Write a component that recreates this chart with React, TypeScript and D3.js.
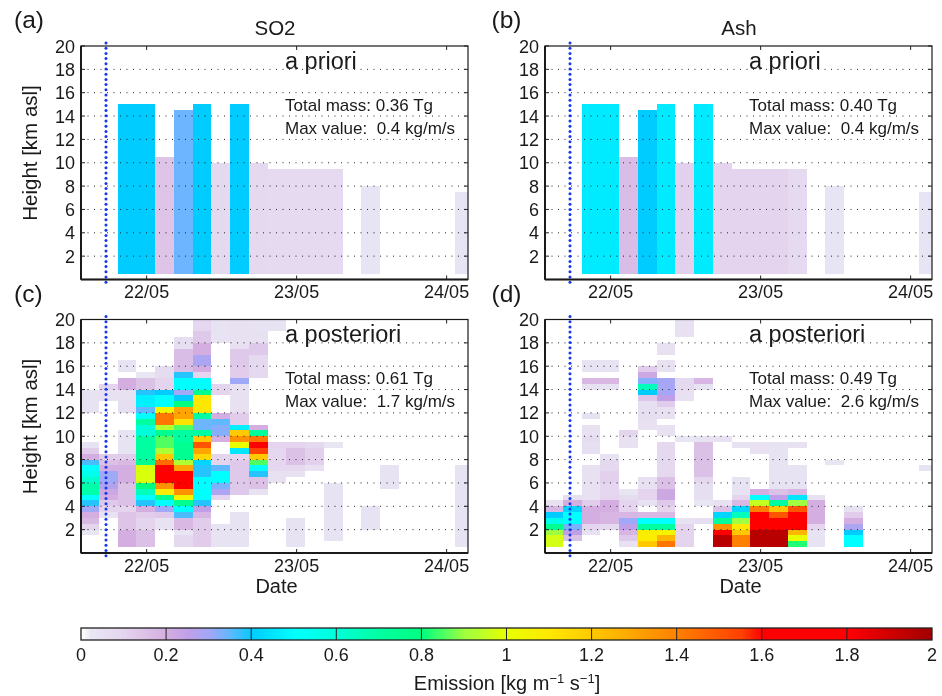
import React from "react";
import * as d3 from "d3";

// Each row: [column index (3 h bins), from km, to km, emission value]
const so2Prior: number[][] = [
  [2,.5,15,.4],[3,.5,15,.4],[4,.5,10.5,.14],[5,.5,14.5,.34],[6,.5,15,.4],[7,.5,10,.08],[8,.5,15,.4],
  [9,.5,10,.08],[10,.5,9.5,.075],[11,.5,9.5,.075],[12,.5,9.5,.075],[13,.5,9.5,.075],[15,.5,8,.035],[20,.5,7.5,.035],
];
const ashPrior: number[][] = [
  [2,.5,15,.46],[3,.5,15,.46],[4,.5,10.5,.16],[5,.5,14.5,.4],[6,.5,15,.46],[7,.5,10,.11],[8,.5,15,.46],
  [9,.5,10,.1],[10,.5,9.5,.1],[11,.5,9.5,.1],[12,.5,9.5,.1],[13,.5,9.5,.075],[15,.5,8,.035],[20,.5,7.5,.035],
];
const so2Post: number[][] = [
  [0,1.5,2,.03],[0,2,2.5,.1],[0,2.5,3,.17],[0,3,3.5,.2],[0,3.5,4,.3],[0,4,4.5,.38],[0,4.5,5,.5],[0,5,6,.68],[0,6,6.5,.62],[0,6.5,7,.55],[0,7,7.5,.5],[0,7.5,8,.36],[0,8,8.5,.2],[0,8.5,9,.12],[0,9,9.5,.04],[0,12,14,.04],
  [1,3,3.5,.04],[1,3.5,4,.1],[1,4,4.5,.13],[1,4.5,5,.2],[1,5,5.5,.22],[1,5.5,6,.27],[1,6,7,.3],[1,7,7.5,.2],[1,7.5,8,.15],[1,8,8.5,.12],[1,13,14,.05],[1,14,14.5,.1],
  [2,.5,2,.2],[2,2,3.5,.14],[2,3.5,4,.1],[2,4,6,.15],[2,6,7.5,.2],[2,7.5,8,.17],[2,8,8.5,.12],[2,8.5,10.5,.04],[2,12,13,.06],[2,13,14,.05],[2,14,15,.2],[2,15.5,16.5,.04],
  [3,.5,2,.15],[3,2,3,.1],[3,3,3.5,.12],[3,3.5,4,.2],[3,4,4.5,.38],[3,4.5,5,.5],[3,5,5.5,.65],[3,5.5,6,.8],[3,6,7.5,.98],[3,7.5,8,.75],[3,8,10,.7],[3,10,11,.6],[3,11,11.5,.7],[3,11.5,12,.5],[3,12,12.5,.35],[3,12.5,13.5,.47],[3,13.5,14,.38],[3,14,15,.15],[3,15,15.5,.03],
  [4,2,3,.04],[4,3,3.5,.13],[4,3.5,4,.3],[4,4,4.5,.5],[4,4.5,5,.75],[4,5,5.5,1.08],[4,5.5,6,1.35],[4,6,7.5,1.65],[4,7.5,8,1.45],[4,8,8.5,1.2],[4,8.5,9,.92],[4,9,10,.85],[4,10,10.5,.75],[4,10.5,11,.93],[4,11,12,1.42],[4,12,12.5,1.05],[4,12.5,13.5,.5],[4,13.5,14,.4],[4,14,15,.1],[4,15,16,.07],
  [5,.5,1.5,.08],[5,1.5,2,.03],[5,2,3,.17],[5,3,3.5,.36],[5,3.5,4,.5],[5,4,4.5,.75],[5,4.5,5,1.05],[5,5,5.5,1.35],[5,5.5,7,1.7],[5,7,7.5,1.3],[5,7.5,8,.92],[5,8,9.5,.75],[5,9.5,10.5,.7],[5,10.5,11,.85],[5,11,11.5,1.12],[5,11.5,12.5,1.3],[5,12.5,13,.8],[5,13,13.5,.4],[5,13.5,14,.3],[5,14,15,.5],[5,15,15.5,.38],[5,15.5,17.5,.16],[5,17.5,18.5,.06],
  [6,.5,3,.12],[6,3,3.5,.18],[6,3.5,4,.25],[6,4,4.5,.38],[6,4.5,6.5,.5],[6,6.5,7.5,.38],[6,7.5,8,.42],[6,8,8.5,1.15],[6,8.5,9,1.3],[6,9,9.5,1.5],[6,9.5,10,1.2],[6,10,10.5,.7],[6,10.5,11.5,.34],[6,11.5,12,.7],[6,12,13.5,1.1],[6,13.5,14,.75],[6,14,15,.5],[6,15,15.5,.1],[6,15.5,16,.2],[6,16,17,.28],[6,17,18,.2],[6,18,19,.13],[6,19,20,.09],
  [7,.5,2.5,.04],[7,4.5,5,.1],[7,5,5.5,.28],[7,5.5,6,.33],[7,6,7,.5],[7,7,7.5,.35],[7,7.5,8.5,.1],[7,9.5,10,.2],[7,10,11,.32],[7,11,11.5,.35],[7,11.5,12,.2],[7,13.5,14.5,.1],[7,18,20,.04],
  [8,.5,3.5,.04],[8,5,8,.13],[8,8,8.5,.1],[8,8.5,9,.45],[8,9,9.5,1.0],[8,9.5,10,1.35],[8,10,10.5,1.2],[8,10.5,11,.47],[8,11,12,.12],[8,12,13.5,.05],[8,13.5,14.5,.05],[8,14.5,15,.3],[8,15,16,.12],[8,16,17.5,.13],[8,17.5,19,.05],[8,19,20,.05],
  [9,5,5.5,.05],[9,5.5,6.5,.15],[9,6.5,7,.38],[9,7,7.5,.5],[9,7.5,8,.85],[9,8,8.5,1.2],[9,8.5,9,1.55],[9,9,9.5,1.65],[9,9.5,10,1.42],[9,10,10.5,.72],[9,10.5,11,.2],[9,15,17,.08],[9,17,18,.13],[9,18,19,.05],[9,19,20,.04],
  [10,6,7,.05],[10,7,9,.09],[10,9,9.5,.1],[10,19,20,.04],
  [11,.5,3,.04],[11,6.5,7,.05],[11,7,7.5,.08],[11,7.5,9,.15],[11,9,9.5,.1],
  [12,7,7.5,.05],[12,7.5,9,.11],[12,9,9.5,.08],
  [13,1,6,.04],[13,9,9.5,.03],
  [15,2,4,.04],[16,5.5,7.5,.04],[20,.5,7.5,.04],
];
const ashPost: number[][] = [
  [0,.5,1.5,.97],[0,1.5,2,.9],[0,2,2.5,.75],[0,2.5,3,.55],[0,3,3.5,.4],[0,3.5,4,.18],[0,4,4.5,.05],
  [1,1,1.5,.15],[1,1.5,2,.25],[1,2,2.5,.33],[1,2.5,3.5,.5],[1,3.5,4,.42],[1,4,4.5,.2],[1,4.5,5,.06],
  [2,1.5,2,.05],[2,2,2.5,.1],[2,2.5,4,.2],[2,4,4.5,.12],[2,4.5,7.5,.05],[2,8.5,9.5,.06],[2,9.5,10,.07],[2,10,11,.05],[2,11.5,12,.05],[2,14,14.5,.05],[2,14.5,15,.17],[2,15.5,16.5,.04],
  [3,2,2.5,.08],[3,2.5,3.5,.18],[3,3.5,4.5,.2],[3,4.5,5,.1],[3,5,6,.09],[3,6,7,.11],[3,7,8,.08],[3,8,8.5,.05],[3,14,14.5,.04],[3,14.5,15,.17],[3,15.5,16.5,.04],
  [4,.5,1,.05],[4,1,1.5,.13],[4,1.5,2,.18],[4,2,2.5,.25],[4,2.5,3,.3],[4,3,3.5,.18],[4,3.5,4.5,.1],[4,4.5,5,.07],[4,5,5.5,.03],[4,9,10,.05],[4,10,10.5,.1],
  [5,.5,1,1.2],[5,1,2,1.08],[5,2,2.5,.7],[5,2.5,3,.5],[5,3,3.5,.17],[5,4,4.5,.05],[5,4.5,5.5,.1],[5,5.5,6.5,.05],[5,10.5,11.5,.05],[5,11.5,13,.06],[5,13,13.5,.14],[5,13.5,14,.4],[5,14,14.5,.65],[5,14.5,15,.32],[5,15,15.5,.22],[5,15.5,16,.12],
  [6,.5,1,1.42],[6,1,1.5,1.25],[6,1.5,2,1.05],[6,2,2.5,.7],[6,2.5,3,.5],[6,3,3.5,.17],[6,3.5,4,.1],[6,4,4.5,.13],[6,4.5,5.5,.22],[6,5.5,6.5,.15],[6,6.5,9.5,.08],[6,10,11,.05],[6,11.5,12.5,.05],[6,12.5,13,.12],[6,13,13.5,.25],[6,13.5,15,.29],[6,15.5,16.5,.05],[6,17,18,.05],
  [7,.5,2.5,.1],[7,2.5,3,.05],[7,9.5,10,.03],[7,13,14,.05],[7,14,15,.08],[7,18.5,20,.05],
  [8,2.5,3,.06],[8,4,4.5,.03],[8,4.5,6,.06],[8,6,6.5,.09],[8,6.5,9.5,.15],[8,9.5,10,.04],[8,14,14.5,.04],[8,14.5,15,.18],
  [9,.5,1.5,1.95],[9,1.5,2,1.65],[9,2,2.5,1.35],[9,2.5,3,.72],[9,3,3.5,.42],[9,3.5,4,.15],[9,4,4.5,.05],[9,9.5,10,.05],
  [10,.5,1.5,1.4],[10,1.5,2,1.2],[10,2,2.5,1.1],[10,2.5,3,.9],[10,3,3.5,.65],[10,3.5,4,.42],[10,4,4.5,.17],[10,4.5,5,.1],[10,5,6.5,.04],[10,9,9.5,.04],
  [11,.5,2,1.95],[11,2,3.5,1.65],[11,3.5,4,1.4],[11,4,4.5,.95],[11,4.5,5,.5],[11,5,5.5,.2],[11,8.5,9.5,.05],
  [12,.5,2,1.95],[12,2,3,1.65],[12,3,3.5,1.5],[12,3.5,4,1.2],[12,4,4.5,.7],[12,4.5,5,.25],[12,5,5.5,.15],[12,5.5,9.5,.04],
  [13,.5,1,.82],[13,1,1.5,1.0],[13,1.5,2,1.25],[13,2,2.5,1.6],[13,2.5,3.5,1.75],[13,3.5,4,1.5],[13,4,4.5,.9],[13,4.5,5,.45],[13,5,5.5,.18],[13,5.5,7.5,.04],[13,9,9.5,.05],
  [14,.5,2,.04],[14,2,2.5,.1],[14,2.5,4.5,.2],[14,4.5,5,.05],
  [15,7.5,8,.03],
  [16,.5,1.5,.5],[16,1.5,2,.4],[16,2,2.5,.28],[16,2.5,3,.2],[16,3,3.5,.12],[16,3.5,4,.05],
  [20,7,7.5,.04],
];

const colorStops = [0,.02,.1,.2,.25,.3,.35,.4,.5,.6,.7,.8,.9,1,1.1,1.2,1.4,1.55,1.6,1.8,2];
const colorValues = ["#ffffff","#e8e8f4","#e4d4ee","#d4aee0","#bfa0e8","#a0a8f8","#60b8ff","#00ccff","#00ffff","#00ffd8","#00ffa0","#00ff80","#a0ff40","#e8ff00","#ffe800","#ffc800","#ff8000","#ff4000","#ff0000","#ff0000","#a00000"];
const dayTicks = [22,23,24];
const dayLabels = ["22/05","23/05","24/05"];
const heightTicks = [2,4,6,8,10,12,14,16,18,20];
const cbarTicks = [0,.2,.4,.6,.8,1,1.2,1.4,1.6,1.8,2];
const volcanoDay = 21.729;
const axisStartDay = 21.5625;
const firstBinDay = 21.557;
const binDays = 0.125;

const color = d3.scaleLinear<string>().domain(colorStops).range(colorValues).interpolate(d3.interpolateRgb);
const FONT = "'Liberation Sans', Arimo, Helvetica, Arial, sans-serif";
const W = 387;
const H = 233.5;

function Panel({ left, top, data, tag, tagX, title, heading, mass, maxv, showY, showDate }: any) {
  const x = d3.scaleLinear().domain([axisStartDay, axisStartDay + W / 150]).range([left, left + W]);
  const y = d3.scaleLinear().domain([0, 20]).range([top + H, top]);
  const tx = left + 204;
  const headBase = top + 22.5;
  const s1 = top + 64.5;
  const s2 = top + 87.5;
  const clipId = "clip" + tag.replace(/[()]/g, "");
  const dashed = d3.range(y(20) - 3, y(0) + 3, 5.2);
  return (
    <g fontFamily={FONT} fill="#1a1a1a">
      <clipPath id={clipId}><rect x={left} y={top} width={W} height={H} /></clipPath>
      <g clipPath={`url(#${clipId})`}>
        {data.map((d: number[], i: number) => (
          <rect key={i} x={x(firstBinDay + d[0] * binDays)} width={x(binDays) - x(0)} y={y(d[2])} height={y(d[1]) - y(d[2])}
            fill={color(d[3])} shapeRendering="crispEdges" />
        ))}
      </g>
      {heightTicks.filter((t) => t < 20).map((t) => (
        <line key={t} x1={left} x2={left + W} y1={y(t)} y2={y(t)} stroke="#222" strokeWidth={1} strokeDasharray="1 5.5" />
      ))}
      {heightTicks.map((t) => (
        <g key={t}>
          <line x1={left} x2={left + 4} y1={y(t)} y2={y(t)} stroke="#222" />
          <line x1={left + W - 4} x2={left + W} y1={y(t)} y2={y(t)} stroke="#222" />
          <text x={left - 6} y={y(t) + 6.5} textAnchor="end" fontSize={18}>{t}</text>
        </g>
      ))}
      {dayTicks.map((t, i) => (
        <g key={t}>
          <line x1={x(t)} x2={x(t)} y1={top + H} y2={top + H - 4} stroke="#222" />
          <line x1={x(t)} x2={x(t)} y1={top} y2={top + 4} stroke="#222" />
          <text x={x(t)} y={top + H + 18.5} textAnchor="middle" fontSize={18}>{dayLabels[i]}</text>
        </g>
      ))}
      {dashed.map((d, i) => (
        <circle key={i} cx={x(volcanoDay)} cy={d} r={1.5} fill="#1438f0" />
      ))}
      <rect x={left} y={top} width={W} height={H} fill="none" stroke="#1a1a1a" strokeWidth={1.2} />
      <line x1={left} x2={left} y1={top} y2={top + H} stroke="#1a1a1a" strokeWidth={2} />
      <line x1={left} x2={left + W} y1={top + H} y2={top + H} stroke="#1a1a1a" strokeWidth={2} />
      <text x={tx} y={headBase} fontSize={23.5}>{heading}</text>
      <text x={tx} y={s1} fontSize={17}>{`Total mass: ${mass} Tg`}</text>
      <text x={tx} y={s2} fontSize={17} style={{ whiteSpace: "pre" }}>{`Max value:  ${maxv} kg/m/s`}</text>
      <text x={tagX} y={top - 18} fontSize={24.5}>{tag}</text>
      {title && <text x={left + W / 2 + 0.5} y={top - 11} textAnchor="middle" fontSize={20.5}>{title}</text>}
      {showY && (
        <text transform={`translate(${left - 44.5},${top + 107}) rotate(-90)`} textAnchor="middle" fontSize={20.5}>Height [km asl]</text>
      )}
      {showDate && <text x={left + W / 2 + 2} y={top + H + 40} textAnchor="middle" fontSize={20}>Date</text>}
    </g>
  );
}

function ColorBar() {
  const cx = d3.scaleLinear().domain([0, 2]).range([81, 932]);
  const steps = d3.range(0, 2, 0.005);
  return (
    <g fontFamily={FONT} fill="#1a1a1a">
      {steps.map((v) => (
        <rect key={v} x={cx(v)} y={628} width={cx(0.006) - cx(0)} height={12} fill={color(v)} shapeRendering="crispEdges" />
      ))}
      {cbarTicks.map((t) => (
        <g key={t}>
          {t > 0 && t < 2 && <line x1={cx(t)} x2={cx(t)} y1={628} y2={640} stroke="#222" strokeWidth={1} />}
          <text x={cx(t)} y={661} textAnchor="middle" fontSize={18}>{t}</text>
        </g>
      ))}
      <rect x={81} y={628} width={851} height={12} fill="none" stroke="#222" strokeWidth={1.3} />
      <text x={507} y={690} textAnchor="middle" fontSize={20}>
        Emission [kg m<tspan dy={-7} fontSize={13}>−1</tspan><tspan dy={7}> s</tspan><tspan dy={-7} fontSize={13}>−1</tspan><tspan dy={7}>]</tspan>
      </text>
    </g>
  );
}

export default function App() {
  return (
    <svg width={942} height={696} style={{ position: "absolute", left: 0, top: 0, filter: "blur(0.35px)" }}>
      <rect width={942} height={696} fill="#fff" />
      <Panel left={81} top={46} data={so2Prior} tag="(a)" tagX={14} title="SO2" heading="a priori" mass="0.36" maxv="0.4" showY />
      <Panel left={545} top={46} data={ashPrior} tag="(b)" tagX={491.5} title="Ash" heading="a priori" mass="0.40" maxv="0.4" />
      <Panel left={81} top={319.5} data={so2Post} tag="(c)" tagX={14} heading="a posteriori" mass="0.61" maxv="1.7" showY showDate />
      <Panel left={545} top={319.5} data={ashPost} tag="(d)" tagX={491.5} heading="a posteriori" mass="0.49" maxv="2.6" showDate />
      <ColorBar />
    </svg>
  );
}
